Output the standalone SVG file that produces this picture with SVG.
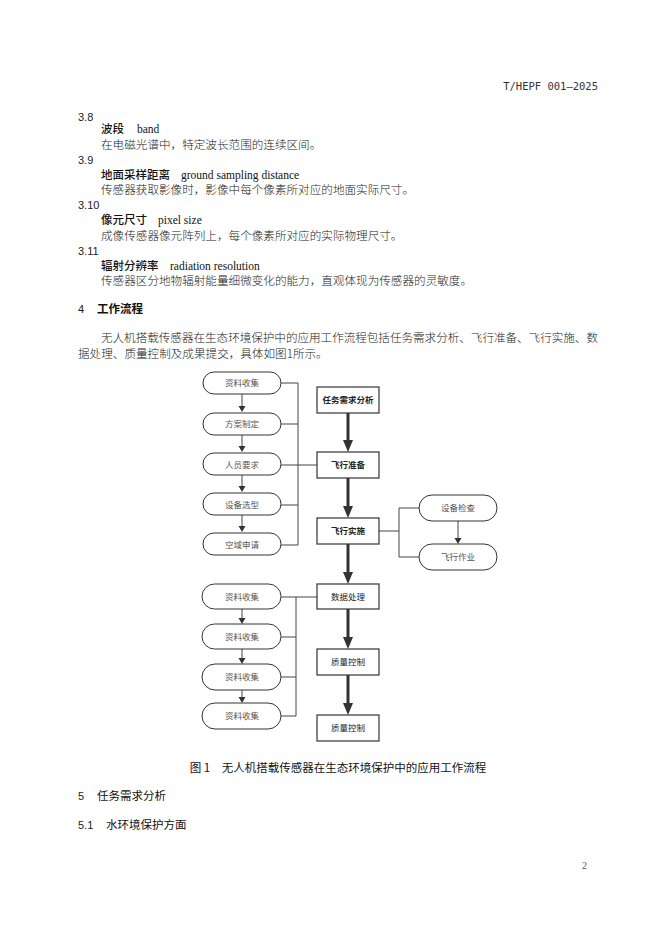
<svg xmlns="http://www.w3.org/2000/svg" width="662" height="936" viewBox="0 0 662 936">
<defs>
<style>
.hdr{font-family:"DejaVu Sans Mono","Noto Sans CJK SC",monospace;font-size:10.5px;fill:#333}
.num{font-family:"Liberation Sans","Noto Sans CJK SC",sans-serif;font-size:11px;fill:#222}
.term{font-family:"Noto Sans CJK SC",sans-serif;font-size:11.5px;font-weight:500;fill:#111}
.en{font-family:"Liberation Serif",serif;font-size:11.5px;fill:#111}
.body{font-family:"Noto Sans CJK SC",sans-serif;font-size:11.6px;font-weight:300;fill:#222}
.h{font-family:"Noto Sans CJK SC",sans-serif;font-size:11.5px;fill:#111}
.hb{font-family:"Noto Sans CJK SC",sans-serif;font-size:11.5px;font-weight:bold;fill:#111}
.pill{fill:#fff;stroke:#333;stroke-width:1}
.box{fill:#fff;stroke:#333;stroke-width:1.2}
.pt{font-family:"Noto Sans CJK SC",sans-serif;font-size:8.5px;fill:#555;text-anchor:middle}
.bt{font-family:"Noto Sans CJK SC",sans-serif;font-size:8.5px;font-weight:bold;fill:#222;text-anchor:middle}
.ln{fill:none;stroke:#444;stroke-width:1}
.thick{fill:none;stroke:#333;stroke-width:3}
.ah{fill:#333}
</style>
</defs>
<rect width="662" height="936" fill="#fff"/>

<text class="hdr" x="598" y="90" text-anchor="end">T/HEPF 001—2025</text>

<text class="num" x="78" y="121">3.8</text>
<text x="101" y="133"><tspan class="term">波段</tspan><tspan class="en" x="137">band</tspan></text>
<text class="body" x="101" y="149">在电磁光谱中，特定波长范围的连续区间。</text>
<text class="num" x="78" y="164">3.9</text>
<text x="101" y="179"><tspan class="term">地面采样距离</tspan><tspan class="en" x="181">ground sampling distance</tspan></text>
<text class="body" x="101" y="194">传感器获取影像时，影像中每个像素所对应的地面实际尺寸。</text>
<text class="num" x="78" y="209">3.10</text>
<text x="101" y="224"><tspan class="term">像元尺寸</tspan><tspan class="en" x="158">pixel size</tspan></text>
<text class="body" x="101" y="240">成像传感器像元阵列上，每个像素所对应的实际物理尺寸。</text>
<text class="num" x="78" y="255">3.11</text>
<text x="101" y="270"><tspan class="term">辐射分辨率</tspan><tspan class="en" x="170">radiation resolution</tspan></text>
<text class="body" x="101" y="285">传感器区分地物辐射能量细微变化的能力，直观体现为传感器的灵敏度。</text>

<text x="78" y="313"><tspan class="num">4</tspan><tspan class="hb" x="97">工作流程</tspan></text>
<text class="body" x="101" y="342" textLength="497" lengthAdjust="spacing">无人机搭载传感器在生态环境保护中的应用工作流程包括任务需求分析、飞行准备、飞行实施、数</text>
<text class="body" x="78" y="358">据处理、质量控制及成果提交，具体如图1所示。</text>

<g id="connectors">
  <path class="ln" d="M281,383 H298 M281,424 H298 M281,465 H317 M281,505 H298 M281,545 H298 M298,383 V545"/>
  <path class="ln" d="M379,531 H399 M399,508 V557 M399,508 H419 M399,557 H419"/>
  <path class="ln" d="M281,597 H317 M281,637 H296 M281,677 H296 M281,716 H296 M296,597 V716"/>
  <path class="ln" d="M242,394 V407 M242,435 V447 M242,475 V487 M242,515 V527"/>
  <polygon class="ah" points="238.5,406 245.5,406 242,412"/>
  <polygon class="ah" points="238.5,446 245.5,446 242,452"/>
  <polygon class="ah" points="238.5,486 245.5,486 242,492"/>
  <polygon class="ah" points="238.5,526 245.5,526 242,532"/>
  <path class="ln" d="M242,609 V619 M242,649 V659 M242,690 V698"/>
  <polygon class="ah" points="238.5,618 245.5,618 242,624"/>
  <polygon class="ah" points="238.5,658 245.5,658 242,664"/>
  <polygon class="ah" points="238.5,697 245.5,697 242,703"/>
  <path class="ln" d="M458,521 V539"/>
  <polygon class="ah" points="454.5,538 461.5,538 458,544"/>
  <path class="thick" d="M348,413 V441 M348,478 V507 M348,544 V573 M348,609 V638 M348,675 V704"/>
  <polygon class="ah" points="343,440 353,440 348,452"/>
  <polygon class="ah" points="343,506 353,506 348,518"/>
  <polygon class="ah" points="343,572 353,572 348,584"/>
  <polygon class="ah" points="343,637 353,637 348,649"/>
  <polygon class="ah" points="343,703 353,703 348,715"/>
</g>

<g id="n-zlsj1"><rect class="pill" x="203" y="372" width="78" height="22" rx="11"/><text class="pt" x="242" y="386">资料收集</text></g>
<g id="n-fazd"><rect class="pill" x="203" y="413" width="78" height="22" rx="11"/><text class="pt" x="242" y="427">方案制定</text></g>
<g id="n-ryyq"><rect class="pill" x="203" y="453" width="78" height="22" rx="11"/><text class="pt" x="242" y="467.5">人员要求</text></g>
<g id="n-sbxx"><rect class="pill" x="203" y="493" width="78" height="22" rx="11"/><text class="pt" x="242" y="508">设备选型</text></g>
<g id="n-kysq"><rect class="pill" x="203" y="533" width="78" height="22" rx="11"/><text class="pt" x="242" y="548">空域申请</text></g>

<g id="n-rwxq"><rect class="box" x="317" y="387" width="62" height="26"/><text class="bt" x="348" y="403">任务需求分析</text></g>
<g id="n-fxzb"><rect class="box" x="317" y="452" width="62" height="26"/><text class="bt" x="348" y="468">飞行准备</text></g>
<g id="n-fxss"><rect class="box" x="317" y="518" width="62" height="26"/><text class="bt" x="348" y="534">飞行实施</text></g>
<g id="n-sjcl"><rect class="box" x="317" y="584" width="62" height="25"/><text class="pt" style="fill:#222" x="348" y="600">数据处理</text></g>
<g id="n-zlkz1"><rect class="box" x="317" y="649" width="62" height="26"/><text class="pt" style="fill:#222" x="348" y="665">质量控制</text></g>
<g id="n-zlkz2"><rect class="box" x="317" y="715" width="62" height="26"/><text class="pt" style="fill:#222" x="348" y="731">质量控制</text></g>

<g id="n-sbjc"><rect class="pill" x="419" y="495" width="78" height="26" rx="13"/><text class="pt" x="458" y="511">设备检查</text></g>
<g id="n-fxzy"><rect class="pill" x="419" y="544" width="78" height="26" rx="13"/><text class="pt" x="458" y="560">飞行作业</text></g>

<g id="n-zlsj2"><rect class="pill" x="202" y="584" width="79" height="25" rx="12.5"/><text class="pt" x="242" y="600">资料收集</text></g>
<g id="n-zlsj3"><rect class="pill" x="202" y="624" width="79" height="25" rx="12.5"/><text class="pt" x="242" y="640">资料收集</text></g>
<g id="n-zlsj4"><rect class="pill" x="202" y="664" width="79" height="26" rx="13"/><text class="pt" x="242" y="680">资料收集</text></g>
<g id="n-zlsj5"><rect class="pill" x="202" y="703" width="79" height="26" rx="13"/><text class="pt" x="242" y="719">资料收集</text></g>

<text class="h" x="338" y="772" text-anchor="middle">图 1　无人机搭载传感器在生态环境保护中的应用工作流程</text>
<text x="78" y="800"><tspan class="num">5</tspan><tspan class="h" x="97">任务需求分析</tspan></text>
<text x="78" y="829"><tspan class="num">5.1</tspan><tspan class="h" x="106">水环境保护方面</tspan></text>
<text x="582" y="869" style="font-family:'Liberation Serif',serif;font-size:10px;fill:#555">2</text>
</svg>
